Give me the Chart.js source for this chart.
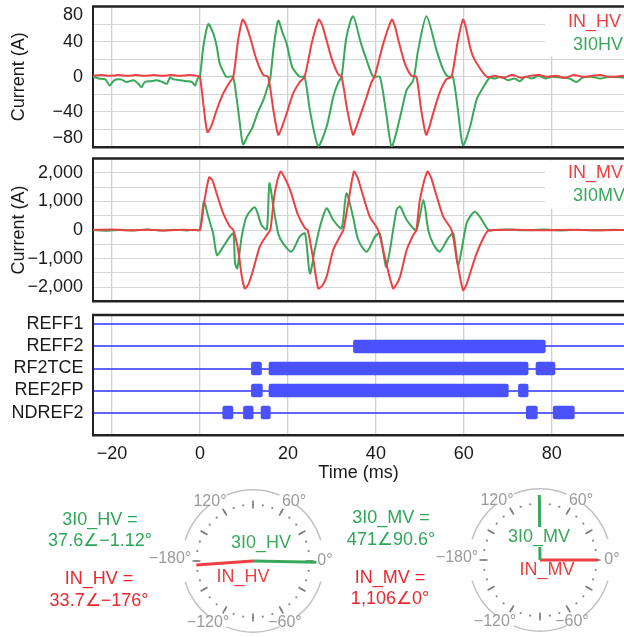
<!DOCTYPE html>
<html>
<head>
<meta charset="utf-8">
<script src="https://cdn.jsdelivr.net/npm/chart.js@4.4.1/dist/chart.umd.min.js"></script>
<style>
  html, body { margin: 0; padding: 0; background: #fff; overflow: hidden; }
  body { width: 624px; height: 637px; position: relative; font-family: "Liberation Sans", Arial, sans-serif; }
  canvas { position: absolute; }
  .ph { position: absolute; font-size: 18px; line-height: 21.5px; text-align: center; white-space: nowrap; transform: translate(-50%, -50%); }
</style>
</head>
<body>
<canvas id="hvChart" width="624" height="162" style="left:0;top:0"></canvas>
<canvas id="mvChart" width="624" height="165" style="left:0;top:150px"></canvas>
<canvas id="logicChart" width="624" height="184" style="left:0;top:306px"></canvas>
<canvas id="hvPhasor" width="240" height="158" style="left:133px;top:482px"></canvas>
<canvas id="mvPhasor" width="240" height="158" style="left:420px;top:481px"></canvas>
<script>
// time axis (ms)
const tMin = -24.3, tMax = 96.4;
const timeTicks = [-20, 0, 20, 40, 60, 80];

// HV currents, [t ms, A]
const inHV = [[-24.3,1],[-22.5,2],[-20.5,1],[-18.5,2],[-16.5,1],[-14.5,2],[-12.5,1],[-10.5,2],[-8.5,1],[-6.5,2],[-4.5,1],[-2.5,2],[-0.5,1],[0,0],
  [0.8,-32],[1.7,-63],[2.6,-56],[3.8,-38],[5.3,-19],[6.8,-6],[7.6,0],[8.7,42],[9.7,65],[10.4,60],[11.4,45],[12.9,19],[14.4,2],[15.5,0],
  [16.7,-38],[17.8,-66],[18.6,-58],[19.7,-42],[21.2,-19],[22.7,-6],[23.8,0],[25.5,40],[27,65],[27.7,60],[28.6,45],[30,20],[31.4,3],[32.2,0],
  [33.5,-38],[34.8,-66],[35.5,-58],[36.4,-45],[37.9,-23],[39,-6],[39.7,0],[41.7,38],[43.6,65],[44.3,58],[45.1,42],[46.6,15],[48.1,1],[49.2,0],
  [50.3,-38],[51.4,-66],[52.1,-58],[53,-42],[54.5,-18],[56,-3],[57.2,0],[58.6,40],[59.8,65],[60.5,55],[61.4,34],[62.1,23],[63.6,10],[65.2,0],
  [67,1],[69,-1],[71,2],[73,-1],[75,1],[77,2],[79,0],[81,1],[83,-1],[85,2],[87,0],[89,1],[91,2],[93,0],[96.4,1]];
const i3I0HV = [[-24.3,0],[-23,-2],[-21.5,-3],[-20.5,-10],[-19.5,-4],[-18,-3],[-16.7,-6],[-15,-4],[-14,-8],[-13.3,-12],[-12.5,-6],[-11,-5],
  [-9.8,-4],[-8.5,-6],[-7.5,-8],[-6.8,-1],[-6,-3],[-4.5,-4],[-3,-5],[-1.8,-6],[-1.1,-10],[-0.5,-2],[0,0],
  [0.8,35],[1.9,60],[3,50],[3.8,35],[4.5,15],[5.3,6],[6,0],[7.5,0],[8.3,-23],[9,-50],[9.8,-77],[10.8,-68],[12,-57],[13.2,-40],[14.4,-27],
  [15.5,-10],[16,-2],[16.8,35],[17.8,64],[18.8,50],[19.7,38],[21,11],[22.7,0],[23.8,0],[25,-38],[26.9,-79],[28.8,-57],[30.3,-23],[31.4,-7],
  [32.2,0],[33.3,45],[34.8,69],[36.5,40],[37.9,19],[39.4,0],[40.9,0],[42.3,-40],[43.6,-79],[45.5,-46],[47,-15],[48.5,-4],[49.6,30],[51.5,69],
  [53.8,30],[55.3,8],[56.4,0],[57.5,0],[58.7,-40],[59.8,-78],[61.4,-57],[62.9,-26],[64.4,-12],[65.9,-1],
  [67,-2],[68.5,0],[70,-4],[71.5,-2],[72.7,-5],[74,0],[75.5,-2],[77,1],[78.5,-2],[80,0],[82,-1],[84,-2],[85.6,-6],[87,-1],[89,0],[91,-2],[93,0],[96.4,-1]];

// MV currents, [t ms, A]
const inMV = [[-24.3,0],[-20,15],[-16,-10],[-12,10],[-8,-15],[-4,10],[-1,0],[0,0],
  [1,1000],[2.1,1840],[2.8,1750],[3.8,1280],[5.3,580],[6.8,120],[7.6,0],[8.7,-700],[9.5,-1600],[10.2,-2040],[11,-1900],[12.1,-1400],
  [13.6,-580],[15.2,-175],[16,0],[17,1280],[18.3,2040],[19.2,1850],[20.5,1400],[22.3,525],[23.9,60],[24.5,0],[25.8,-1050],[26.9,-2040],
  [27.8,-1950],[28.8,-1630],[30.3,-700],[31.8,-230],[32.6,0],[33.7,930],[35,2040],[35.8,1850],[36.7,1400],[38.6,470],[40.5,0],[42,-930],
  [43.9,-2040],[44.7,-1900],[45.5,-1630],[47,-700],[48.5,-175],[49.2,0],[50,1050],[51.7,2040],[52.5,1850],[53.4,1400],[55.3,470],[57.2,0],
  [58.3,-930],[59.8,-2100],[60.6,-1900],[61.4,-1520],[62.9,-820],[64.4,-290],[65.5,-25],[67,0],[72,10],[78,-10],[84,10],[90,-10],[96.4,0]];
const i3I0MV = [[-24.3,0],[-21,-25],[-18,10],[-15,-20],[-12,15],[-9,-20],[-6,10],[-3,-15],[-1,5],[0,0],
  [0.9,990],[1.9,470],[3,-120],[3.9,-875],[5.3,-580],[6.8,-230],[7.6,-120],[8,-1170],[8.5,-1340],[9.5,-230],[10.6,470],[12.5,790],
  [14,175],[15.2,25],[15.8,1630],[16.7,820],[17.8,-120],[18.9,-470],[20.8,-760],[22.7,-230],[23.9,-120],[25,-1520],[26.1,-700],
  [27.3,120],[28.8,760],[30.3,350],[32.2,60],[33.3,1280],[34.8,470],[36,-350],[37.9,-760],[39.8,-230],[40.9,-120],[42.3,-1280],
  [43.2,-700],[44.7,700],[45.5,820],[47,350],[49.2,0],[50.8,1050],[51.9,0],[53,-470],[54.5,-760],[56.4,-290],[57.6,-120],[58.7,-1230],
  [60.6,230],[61.7,530],[62.5,640],[63.6,470],[64.8,175],[65.8,-25],[67,0],[70,15],[74,-10],[78,15],[82,-15],[86,10],[90,-10],[94,10],[96.4,0]];

// y gridlines / labels
const hvGrid = [-80, -60, -40, -20, 0, 20, 40, 60, 80];
const hvLabels = [-80, -40, 0, 40, 80];
const mvGrid = [-2500, -2000, -1500, -1000, -500, 0, 500, 1000, 1500, 2000, 2500];
const mvLabels = [-2000, -1000, 0, 1000, 2000];

// protection element pickups, [start ms, end ms]
const signalNames = ['REFF1', 'REFF2', 'RF2TCE', 'REF2FP', 'NDREF2'];
const signalOn = [
  [],
  [[34.9, 78.5]],
  [[11.7, 14.0], [15.7, 74.6], [76.4, 80.7]],
  [[11.7, 14.2], [15.7, 70.1], [72.4, 74.6]],
  [[5.2, 7.5], [9.9, 12.1], [13.9, 16.0], [74.2, 76.7], [80.3, 85.1]]
];

// phasors
const hvNames = ['3I0_HV', 'IN_HV'];
const hvMags = [37.6, 33.7];
const hvAngles = [-1.12, -176];
const mvNames = ['3I0_MV', 'IN_MV'];
const mvMags = [471, 1106];
const mvAngles = [90.6, 0];
const hvRing = [33.8, 33.8];   // magnitude drawn on the dotted ring
const mvRing = [413, 1087];
const angleLabels = [120, 60, -60, -120, -180, 0];

const RED = 'rgb(236,64,66)';
const GREEN = 'rgb(56,168,90)';
const RED_TXT = '#e8282e';
const GREEN_TXT = '#2ea65a';
const FONT = '"Liberation Sans", Arial, sans-serif';

Chart.defaults.font.family = FONT;
Chart.defaults.font.size = 18;
Chart.defaults.color = '#1a1a1a';
Chart.defaults.animation = false;

const minus = v => String(v).replace('-', '\u2212');
const pts = arr => arr.map(p => ({x: p[0], y: p[1]}));
const noPad = s => { s.paddingTop = 0; s.paddingBottom = 0; s.paddingLeft = 0; s.paddingRight = 0; };

// top frame line
const frame = {
  id: 'frame',
  afterDraw(chart) {
    const {ctx, chartArea: a} = chart;
    ctx.save();
    ctx.strokeStyle = '#222';
    ctx.lineWidth = 2.5;
    ctx.beginPath();
    ctx.moveTo(a.left - 1, a.top);
    ctx.lineTo(chart.width, a.top);
    ctx.stroke();
    ctx.restore();
  }
};

// text legend in the top right corner, on white
const cornerLegend = {
  id: 'cornerLegend',
  beforeDatasetsDraw(chart, args, o) {
    if (!o.x) return;
    const {ctx, chartArea: a} = chart;
    ctx.save();
    ctx.fillStyle = '#fff';
    ctx.fillRect(o.left, a.top + 2, chart.width - o.left, o.height);
    ctx.font = '18px ' + FONT;
    ctx.textBaseline = 'middle';
    chart.data.datasets.forEach((ds, i) => {
      ctx.fillStyle = ds.borderColor;
      ctx.fillText(ds.label, o.x[i], a.top + o.y[i]);
    });
    ctx.restore();
  }
};

function timeAxis(labels, height) {
  return {
    type: 'linear', min: tMin, max: tMax,
    afterBuildTicks: s => { s.ticks = timeTicks.map(v => ({value: v})); },
    afterFit: s => { s.height = height; noPad(s); },
    ticks: {display: labels, padding: 8, autoSkip: false, maxRotation: 0, callback: v => minus(v)},
    grid: {color: '#d0d0d0', lineWidth: 1.3, drawTicks: false},
    border: {color: '#222', width: 2.5},
    title: {display: labels, text: 'Time (ms)', padding: {top: 0, bottom: 6}}
  };
}

// edge labels are kept inside the frame, as in the original plot
function currentAxis(min, max, grid, labels, fmt) {
  return {
    min, max,
    afterBuildTicks: s => { s.ticks = grid.map(v => ({value: v})); },
    afterFit: s => { s.width = 93; noPad(s); },
    ticks: {
      padding: 10, autoSkip: false, font: {lineHeight: 0.95},
      callback: v => {
        if (!labels.includes(v)) return '';
        if (v === max) return ['', fmt(v)];
        if (v === min) return [fmt(v), ''];
        return fmt(v);
      }
    },
    grid: {color: '#d6d6d6', drawTicks: false},
    border: {color: '#222', width: 2},
    title: {display: true, text: 'Current (A)', padding: {top: 8, bottom: 0}, font: {lineHeight: 1.2}}
  };
}

function waveChart(id, top, xHeight, series, yAxis, legend) {
  return new Chart(document.getElementById(id), {
    type: 'line',
    data: {
      datasets: series.map(s => ({
        label: s.label, data: pts(s.data), borderColor: s.color,
        borderWidth: 2, pointRadius: 0, tension: 0.25
      }))
    },
    options: {
      responsive: false,
      layout: {padding: {top: top, left: 0, right: 0, bottom: 0}},
      scales: {x: timeAxis(false, xHeight), y: yAxis},
      plugins: {legend: {display: false}, tooltip: {enabled: false}, cornerLegend: legend}
    },
    plugins: [frame, cornerLegend]
  });
}

waveChart('hvChart', 6.5, 15,
  [{label: 'IN_HV', data: inHV, color: RED}, {label: '3I0HV', data: i3I0HV, color: GREEN}],
  currentAxis(-80, 80, hvGrid, hvLabels, v => minus(v)),
  {left: 545, height: 48, x: [568, 573], y: [15.5, 38.5]});

waveChart('mvChart', 8.5, 13.5,
  [{label: 'IN_MV', data: inMV, color: RED}, {label: '3I0MV', data: i3I0MV, color: GREEN}],
  currentAxis(-2500, 2500, mvGrid, mvLabels, v => minus(v.toLocaleString('en-US'))),
  {left: 545, height: 48, x: [568, 573], y: [15, 38]});

// logic panel
new Chart(document.getElementById('logicChart'), {
  type: 'bar',
  data: {
    datasets: [{
      data: signalOn.flatMap((segs, row) => segs.map(s => ({x: s, y: row}))),
      backgroundColor: 'rgb(74,82,255)',
      barThickness: 13,
      borderRadius: 2,
      borderSkipped: false
    }]
  },
  options: {
    responsive: false,
    indexAxis: 'y',
    layout: {padding: {top: 9, left: 0, right: 0, bottom: 0}},
    scales: {
      x: timeAxis(true, 55),
      y: {
        type: 'linear', min: -0.43, max: 5.02, reverse: true, offset: false,
        afterBuildTicks: s => { s.ticks = signalNames.map((_, i) => ({value: i})); },
        afterFit: s => { s.width = 93; noPad(s); },
        ticks: {padding: 9.5, autoSkip: false, callback: v => signalNames[v]},
        grid: {color: 'rgba(88,92,255,0.95)', lineWidth: 2, drawTicks: false, offset: false},
        border: {color: '#222', width: 2}
      }
    },
    plugins: {legend: {display: false}, tooltip: {enabled: false}}
  },
  plugins: [frame]
});

// phasor diagrams
const fmtAng = a => minus(a) + '\u00b0';
const fmtMag = m => m.toLocaleString('en-US');

const polarGrid = {
  id: 'polarGrid',
  beforeDatasetsDraw(chart, args, o) {
    const {ctx} = chart;
    const cx = chart.scales.x.getPixelForValue(0);
    const cy = chart.scales.y.getPixelForValue(0);
    const rad = d => d * Math.PI / 180;
    ctx.save();
    ctx.strokeStyle = '#c2c2c2';
    ctx.lineWidth = 1.5;
    o.arcs.forEach(([a0, a1]) => {
      ctx.beginPath();
      ctx.arc(cx, cy, o.outer, -rad(a1), -rad(a0));
      ctx.stroke();
    });
    ctx.fillStyle = '#8a8a8a';
    for (let a = 0; a < 360; a += 10) {
      ctx.beginPath();
      ctx.arc(cx + o.ring * Math.cos(rad(a)), cy - o.ring * Math.sin(rad(a)), 1.1, 0, 2 * Math.PI);
      ctx.fill();
    }
    ctx.strokeStyle = '#7a7a7a';
    ctx.lineWidth = 1.6;
    for (let a = 0; a < 360; a += 30) {
      const c = Math.cos(rad(a)), s = Math.sin(rad(a));
      ctx.beginPath();
      ctx.moveTo(cx + (o.ring - 4) * c, cy - (o.ring - 4) * s);
      ctx.lineTo(cx + (o.ring + 4) * c, cy - (o.ring + 4) * s);
      ctx.stroke();
    }
    ctx.fillStyle = '#9a9a9a';
    ctx.font = '16px ' + FONT;
    ctx.textAlign = 'center';
    ctx.textBaseline = 'middle';
    angleLabels.forEach((a, i) => ctx.fillText(fmtAng(a), cx + o.labelPos[i][0], cy + o.labelPos[i][1]));
    ctx.restore();
  },
  afterDatasetsDraw(chart, args, o) {
    const {ctx} = chart;
    const cx = chart.scales.x.getPixelForValue(0);
    const cy = chart.scales.y.getPixelForValue(0);
    ctx.save();
    ctx.font = '18px ' + FONT;
    ctx.textAlign = 'center';
    ctx.textBaseline = 'middle';
    chart.data.datasets.forEach((ds, i) => {
      const x = cx + o.namePos[i][0], y = cy + o.namePos[i][1];
      if (o.nameBg[i]) {
        const w = ctx.measureText(ds.label).width;
        ctx.fillStyle = '#fff';
        ctx.fillRect(x - w / 2 - 1, y - 10, w + 2, 20);
      }
      ctx.fillStyle = ds.borderColor;
      ctx.fillText(ds.label, x, y);
    });
    ctx.restore();
  }
};

function phasorChart(id, names, mags, angles, ring, namePos, nameBg) {
  const W = 240, H = 158, R = 57;
  const colors = [GREEN, RED];
  const scales = {};
  const datasets = names.map((name, i) => {
    const xid = i ? 'x1' : 'x', yid = i ? 'y1' : 'y';
    const kx = ring[i] * (W / 2) / R, ky = ring[i] * (H / 2) / R;
    scales[xid] = {type: 'linear', display: false, min: -kx, max: kx};
    scales[yid] = {type: 'linear', display: false, min: -ky, max: ky};
    const a = angles[i] * Math.PI / 180;
    return {
      label: name,
      data: [{x: 0, y: 0}, {x: mags[i] * Math.cos(a), y: mags[i] * Math.sin(a)}],
      showLine: true, borderColor: colors[i], borderWidth: 3, pointRadius: 0,
      xAxisID: xid, yAxisID: yid, clip: false
    };
  });
  return new Chart(document.getElementById(id), {
    type: 'scatter',
    data: {datasets},
    options: {
      responsive: false,
      layout: {padding: 0},
      scales,
      plugins: {
        legend: {display: false}, tooltip: {enabled: false},
        polarGrid: {
          ring: 56.5, outer: 71,
          arcs: [[17, 52], [68, 112], [128, 163], [-163, -128], [-112, -68], [-52, -17]],
          labelPos: [[-43, -59], [41, -59], [32, 62], [-45, 62], [-83, -2], [72, 0]],
          namePos, nameBg
        }
      }
    },
    plugins: [polarGrid]
  });
}

phasorChart('hvPhasor', hvNames, hvMags, hvAngles, hvRing, [[8, -18], [-10, 16]], [false, false]);
phasorChart('mvPhasor', mvNames, mvMags, mvAngles, mvRing, [[-1, -23], [7, 10]], [true, false]);

// phasor readouts
function phasorText(x, y, name, mag, ang, color) {
  const d = document.createElement('div');
  d.className = 'ph';
  d.style.left = x + 'px';
  d.style.top = y + 'px';
  d.style.color = color;
  d.innerHTML = name + ' =<br>' + fmtMag(mag) + '\u2220' + fmtAng(ang);
  document.body.appendChild(d);
}
phasorText(100, 529.5, hvNames[0], hvMags[0], hvAngles[0], GREEN_TXT);
phasorText(99, 589, hvNames[1], hvMags[1], hvAngles[1], RED_TXT);
phasorText(391, 528, mvNames[0], mvMags[0], mvAngles[0], GREEN_TXT);
phasorText(390, 587.5, mvNames[1], mvMags[1], mvAngles[1], RED_TXT);
</script>
</body>
</html>
